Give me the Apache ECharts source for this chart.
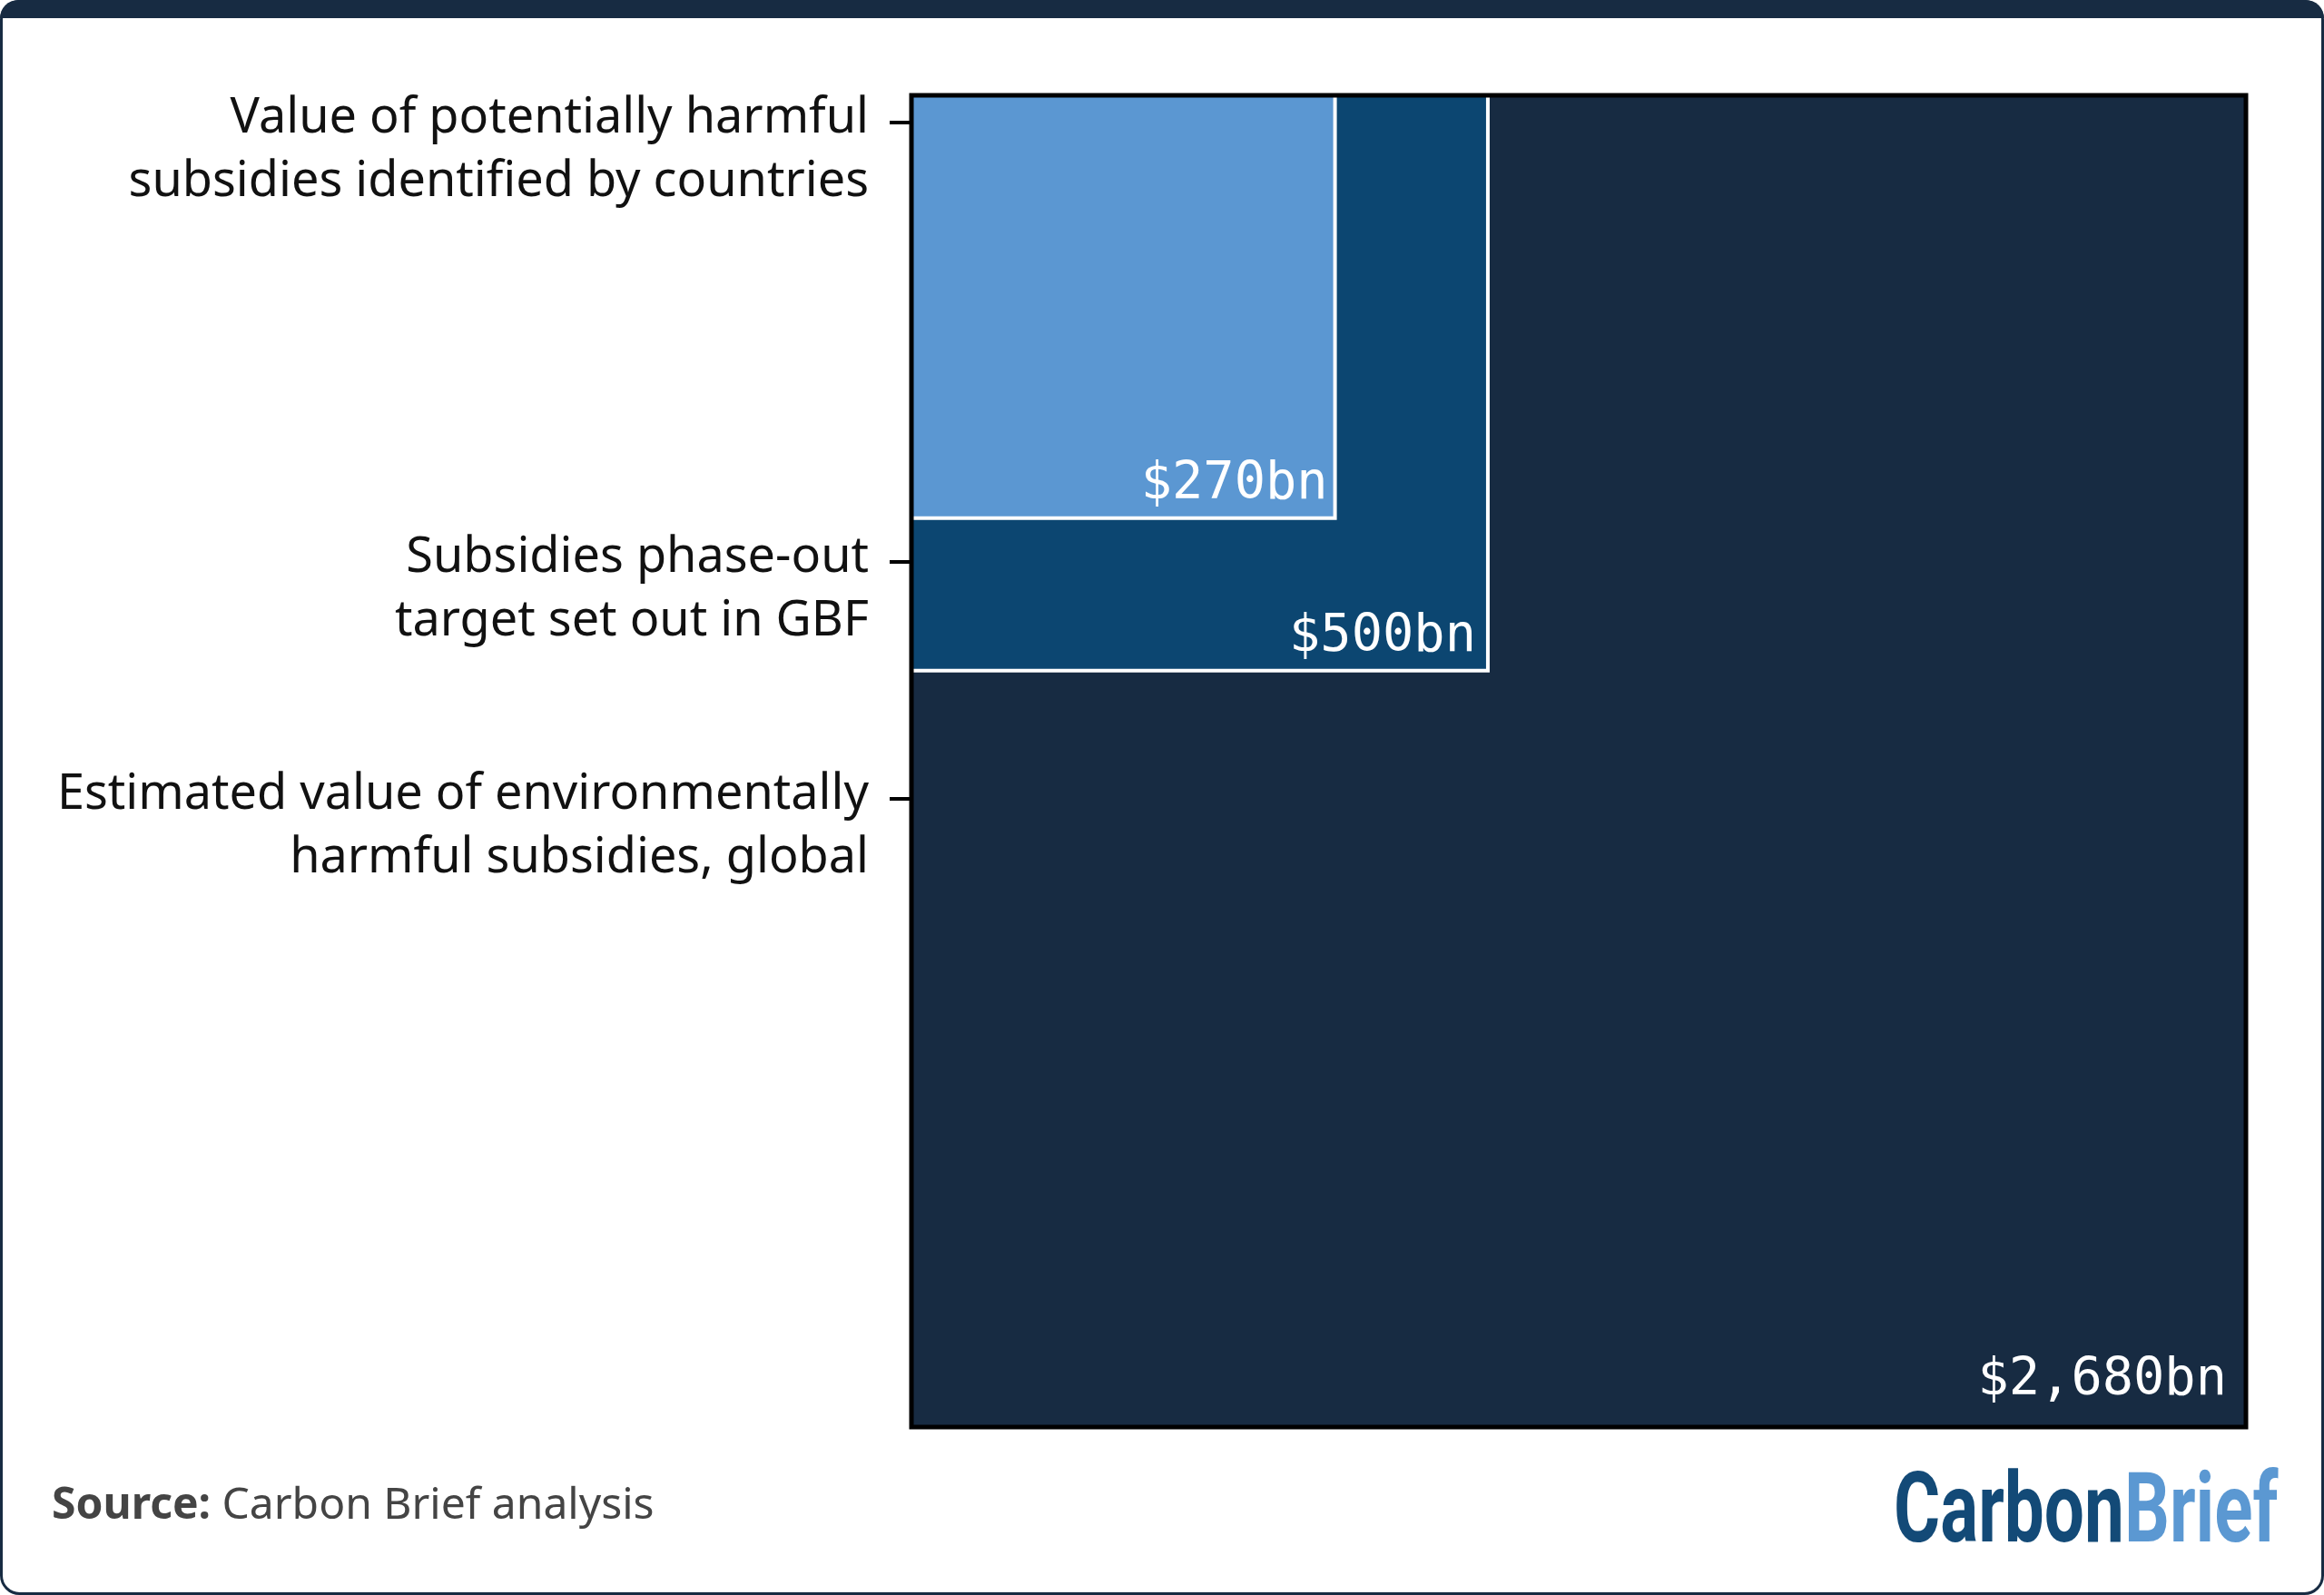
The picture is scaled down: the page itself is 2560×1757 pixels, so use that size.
<!DOCTYPE html>
<html><head><meta charset="utf-8">
<script src="https://cdn.jsdelivr.net/npm/echarts@6/dist/echarts.min.js"></script>
<style>html,body{margin:0;padding:0;background:#fff}#c{width:2560px;height:1757px}</style>
</head><body><div id="c"></div>
<script>
// ---- data ----
const subsidyNames = [
  'Estimated value of environmentally\nharmful subsidies, global',
  'Subsidies phase-out\ntarget set out in GBF',
  'Value of potentially harmful\nsubsidies identified by countries'
];
const subsidyValues = [2680, 500, 270];            // $bn
const valueLabels = ['$2,680bn', '$500bn', '$270bn'];
const tickLabelValues = [27.35, 18.14, 1.06];      // where the category ticks sit on the sqrt($bn) axis

// ---- styles ----
const fillColors = ['#172b42', '#0c4671', '#5b97d2'];
const labelPad = [[21, 22], [13, 8], [8, 8]];      // right / bottom padding of value labels

const side = subsidyValues.map(v => Math.sqrt(v));
const axisMax = Math.max(...side);

const chart = echarts.init(document.getElementById('c'), null, {renderer: 'canvas'});
const option = {
  backgroundColor: '#fff',
  animation: false,
  grid: {left: 1004, top: 105, width: 1470, height: 1467, containLabel: false},
  xAxis: {type: 'value', min: 0, max: axisMax, show: false},
  yAxis: {
    type: 'value', min: 0, max: axisMax, inverse: true,
    axisLine: {show: false},
    splitLine: {show: false},
    axisTick: {show: true, customValues: tickLabelValues, length: 24, lineStyle: {color: '#000', width: 4}},
    axisLabel: {
      show: true, customValues: tickLabelValues,
      formatter: v => {
        const i = tickLabelValues.findIndex(t => Math.abs(t - v) < 1e-6);
        if (i < 0) return '';
        return '{s| }\n' + subsidyNames[i].split('\n').map(l => '{t|' + l + '}').join('\n');
      },
      margin: 47, align: 'right', verticalAlign: 'middle',
      rich: {
        s: {fontSize: 10, lineHeight: 62, align: 'right'},
        t: {fontFamily: '"Noto Sans"', fontSize: 54, lineHeight: 70, color: '#111', align: 'right'}
      }
    }
  },
  series: [
    {
      type: 'custom', coordinateSystem: 'cartesian2d', clip: false,
      data: side.map((s, i) => [s, s, i]),
      encode: {x: 0, y: 1},
      renderItem(params, api) {
        const s = api.value(0), i = api.value(2);
        const p0 = api.coord([0, 0]), p1 = api.coord([s, s]);
        const x = Math.min(p0[0], p1[0]), y = Math.min(p0[1], p1[1]);
        const w = Math.abs(p1[0] - p0[0]), h = Math.abs(p1[1] - p0[1]);
        return {type: 'group', children: [
          {type: 'rect', shape: {x, y, width: w, height: h},
           style: {fill: fillColors[i], stroke: i ? '#fff' : null, lineWidth: i ? 4 : 0}},
          {type: 'text', x: x + w - labelPad[i][0], y: y + h - labelPad[i][1],
           style: {text: valueLabels[i], fill: '#fff', font: '57px "DejaVu Sans Mono"', align: 'right', verticalAlign: 'bottom'}}
        ]};
      }
    },
    {
      type: 'custom', coordinateSystem: 'cartesian2d', clip: false, z: 5,
      data: [[axisMax, axisMax]],
      renderItem(params, api) {
        const p0 = api.coord([0, 0]), p1 = api.coord([api.value(0), api.value(1)]);
        return {type: 'rect', shape: {x: p0[0], y: p0[1], width: p1[0] - p0[0], height: p1[1] - p0[1]},
                style: {fill: null, stroke: '#000', lineWidth: 5}};
      }
    }
  ],
  graphic: [
    {type: 'rect', z: 100, shape: {x: 1.5, y: 1.5, width: 2557, height: 1754, r: 20}, style: {fill: null, stroke: '#172b42', lineWidth: 3}},
    {type: 'rect', z: 100, shape: {x: 0, y: 0, width: 2560, height: 20, r: [20, 20, 0, 0]}, style: {fill: '#172b42'}},
    {type: 'text', z: 100, x: 57, y: 1659,
     style: {text: '{b|Source:} Carbon Brief analysis', font: '48px "Noto Sans"', fill: '#444', verticalAlign: 'middle',
             rich: {b: {font: 'bold 48px "Noto Sans"', fill: '#444'}}}},
    {type: 'text', z: 100, x: 2086, y: 1671, scaleX: 0.725,
     style: {text: '{a|Carbon}{b|Brief}', verticalAlign: 'middle', font: 'bold 108px Roboto',
             rich: {a: {font: 'bold 108px Roboto', fill: '#134a77'}, b: {font: 'bold 108px Roboto', fill: '#5b98d2'}}}}
  ]
};
chart.setOption(option);
</script></body></html>
